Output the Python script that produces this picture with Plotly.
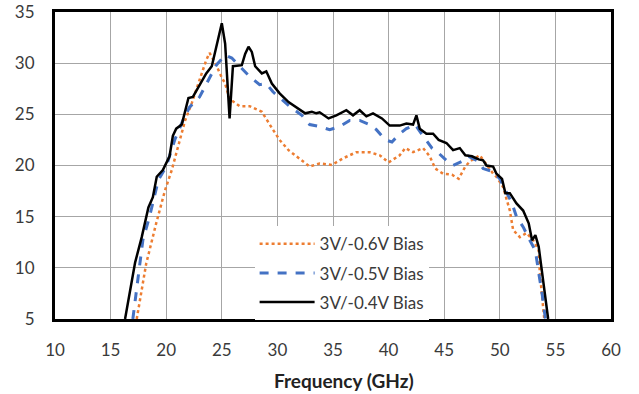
import plotly.graph_objects as go

# 3V/-0.6V Bias (orange dotted)
f_06 = [17.35, 18.2, 19.1, 19.9, 20.5, 21.2, 21.7, 22.3, 23.0, 23.6, 23.9, 24.5, 25.0, 25.3, 25.7,
        26.6, 27.5, 28.6, 29.6, 30.2, 31.0, 31.7, 32.9, 33.8, 34.9, 35.9, 37.1, 38.3, 39.2, 40.0,
        41.0, 41.5, 42.2, 43.1, 43.7, 44.2, 44.9, 45.7, 46.3, 46.9, 47.3, 48.2, 49.4, 49.7, 50.3,
        50.9, 51.2, 51.8, 52.4, 53.0, 53.5, 53.6, 53.8, 54.0]
g_06 = [5.0, 10.4, 14.35, 17.6, 19.55, 22.5, 24.4, 26.1, 28.35, 30.3, 31.0, 29.8, 28.6, 28.0, 26.5,
        25.8, 25.8, 25.25, 23.5, 22.5, 21.5, 20.9, 19.9, 20.2, 20.05, 20.7, 21.3, 21.3, 21.0, 20.3,
        21.0, 21.7, 21.3, 21.7, 20.9, 19.7, 19.2, 19.1, 18.7, 19.9, 20.4, 21.0, 19.2, 18.9, 17.9,
        15.6, 13.7, 13.0, 13.4, 12.7, 11.7, 9.5, 6.9, 5.0]

# 3V/-0.5V Bias (blue dashed)
f_05 = [17.0, 17.5, 17.9, 18.5, 19.3, 20.0, 20.8, 21.5, 22.1, 23.0, 23.8, 24.5, 25.3, 25.9, 26.6,
        27.5, 28.4, 29.0, 29.6, 30.5, 31.3, 32.2, 32.9, 33.8, 34.7, 35.6, 36.5, 37.4, 38.3, 38.9,
        39.7, 40.3, 41.0, 41.6, 42.4, 42.7, 43.3, 43.9, 44.5, 45.2, 45.8, 46.6, 47.2, 48.1, 48.5,
        49.4, 50.0, 50.6, 51.1, 51.5, 52.1, 52.7, 53.2, 53.5, 53.8, 54.1]
g_05 = [5.0, 9.45, 12.7, 15.0, 18.6, 19.9, 22.6, 24.4, 25.7, 26.7, 28.35, 29.8, 30.8, 30.5, 29.7,
        28.7, 27.9, 28.0, 27.2, 26.4, 25.6, 24.9, 24.0, 23.8, 23.5, 23.8, 24.4, 24.4, 24.0, 23.5,
        22.5, 22.3, 23.1, 23.6, 24.0, 23.5, 22.65, 21.7, 21.2, 20.5, 20.0, 20.4, 20.9, 20.4, 19.7,
        19.4, 18.7, 17.3, 16.3, 15.0, 14.0, 12.7, 11.7, 9.5, 7.5, 5.0]

# 3V/-0.4V Bias (black solid)
f_04 = [16.3, 17.2, 17.8, 18.4, 18.8, 19.15, 19.7, 20.3, 20.6, 20.9, 21.4, 22.0, 22.4, 23.0, 23.6,
        24.1, 24.5, 25.0, 25.3, 25.7, 26.0, 26.5, 26.8, 27.1, 27.4, 27.7, 28.0, 28.6, 29.0, 29.5,
        30.2, 31.0, 31.7, 32.5, 33.1, 33.5, 33.8, 34.6, 35.3, 36.2, 36.8, 37.4, 38.0, 38.6, 39.4,
        40.1, 41.0, 41.6, 42.2, 42.5, 42.8, 43.4, 44.0, 44.5, 45.2, 45.8, 46.4, 46.9, 47.5, 48.1,
        48.5, 48.8, 49.4, 49.7, 50.2, 50.5, 50.9, 51.5, 52.1, 52.6, 52.9, 53.2, 53.5, 53.9, 54.35]
g_04 = [5.0, 10.5, 13.0, 15.9, 16.9, 18.9, 19.55, 20.9, 22.9, 23.6, 24.0, 26.6, 26.7, 27.9, 29.0,
        29.7, 31.6, 33.9, 31.9, 24.6, 29.7, 29.8, 29.8, 30.9, 31.6, 31.1, 29.7, 29.0, 29.2, 28.0,
        27.05, 26.2, 25.7, 25.1, 25.25, 25.1, 25.2, 24.6, 24.9, 25.4, 24.9, 25.4, 24.8, 25.1, 24.6,
        23.9, 23.9, 24.1, 24.0, 24.9, 23.6, 23.1, 23.1, 22.5, 22.2, 21.5, 21.7, 21.0, 20.9, 20.6,
        20.5, 20.0, 19.9, 19.2, 18.7, 17.3, 17.3, 16.3, 15.6, 14.35, 12.7, 13.2, 12.05, 8.5, 5.0]

x_ticks = [10, 15, 20, 25, 30, 35, 40, 45, 50, 55, 60]
y_ticks = [5, 10, 15, 20, 25, 30, 35]
x_title = "Frequency (GHz)"

FONT = "Lato"

fig = go.Figure()
fig.add_trace(go.Scatter(x=f_06, y=g_06, mode="lines", name="3V/-0.6V Bias", legendgroup="a",
                         line=dict(color="#ED7D31", width=2.5, dash="dot")))
fig.add_trace(go.Scatter(x=f_05, y=g_05, mode="lines", name="3V/-0.5V Bias", legendgroup="b",
                         line=dict(color="#4472C4", width=3, dash="dash")))
fig.add_trace(go.Scatter(x=f_04, y=g_04, mode="lines", name="3V/-0.4V Bias", legendgroup="c",
                         line=dict(color="#000000", width=2.5)))

fig.update_layout(
    width=639, height=394,
    margin=dict(l=55, r=28, t=12, b=75),
    paper_bgcolor="white", plot_bgcolor="white",
    font=dict(family=FONT, size=17, color="#3A3A3A"),
    showlegend=True,
    legend=dict(x=0.359, y=0.302, xanchor="left", yanchor="top",
                bgcolor="white", borderwidth=0, font=dict(size=17, color="#3A3A3A"),
                itemwidth=55, traceorder="grouped", tracegroupgap=4),
    xaxis=dict(range=[10, 60], tickvals=x_ticks, ticktext=[str(v) for v in x_ticks],
               showgrid=True, gridcolor="#A6A6A6", gridwidth=1, automargin=False,
               showline=True, linecolor="black", linewidth=3, mirror=True,
               ticks="", ticklabelstandoff=14, zeroline=False),
    yaxis=dict(range=[5, 35], tickvals=y_ticks, ticktext=[str(v) for v in y_ticks],
               showgrid=True, gridcolor="#A6A6A6", gridwidth=1, automargin=False,
               showline=True, linecolor="black", linewidth=3, mirror=True,
               ticks="", ticklabelstandoff=14, zeroline=False),
    annotations=[dict(text="<b>" + x_title + "</b>", xref="paper", yref="paper",
                      x=0.519, y=-0.199, xanchor="center", yanchor="middle",
                      showarrow=False, font=dict(size=19, color="#222222"))],
)

fig.write_html("out.html")
